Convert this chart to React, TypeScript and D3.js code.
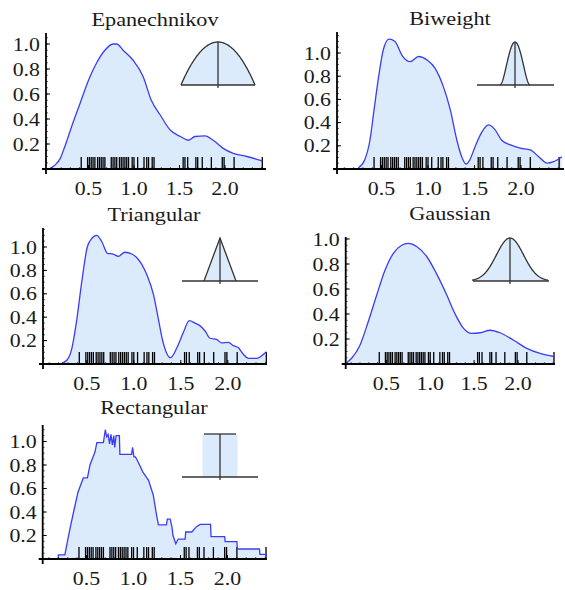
import React from 'react'
import * as d3 from 'd3'

// sample points shown as rug ticks under every curve
const rugPoints = [
  0.42, 0.49, 0.51, 0.53, 0.55, 0.57, 0.6, 0.62, 0.64, 0.66, 0.68, 0.75, 0.77, 0.79,
  0.81, 0.84, 0.86, 0.88, 0.9, 0.92, 0.94, 0.98, 1.0, 1.04, 1.11, 1.14, 1.16, 1.2,
  1.22, 1.54, 1.56, 1.59, 1.68, 1.7, 1.75, 1.85, 1.97, 1.99, 2.1, 2.41,
]

const xTicks = [0.5, 1.0, 1.5, 2.0]
const yTicks = [0.2, 0.4, 0.6, 0.8, 1.0]

// density estimates: [x, density]
const epanechnikov: [number, number][] = [
  [0.077, 0.005], [0.13, 0.03], [0.19, 0.085], [0.24, 0.18], [0.315, 0.34], [0.41, 0.53],
  [0.5, 0.71], [0.59, 0.85], [0.68, 0.95], [0.77, 1.0], [0.81, 1.0], [0.88, 0.95],
  [0.99, 0.87], [1.1, 0.74], [1.19, 0.55], [1.29, 0.43], [1.4, 0.31], [1.51, 0.26],
  [1.6, 0.23], [1.67, 0.26], [1.78, 0.265], [1.87, 0.23], [1.98, 0.165], [2.09, 0.125],
  [2.24, 0.1], [2.41, 0.065],
]

const biweight: [number, number][] = [
  [0.25, 0.01], [0.32, 0.08], [0.376, 0.25], [0.42, 0.51], [0.47, 0.8], [0.52, 1.03],
  [0.58, 1.12], [0.645, 1.1], [0.72, 0.98], [0.81, 0.925], [0.9, 0.97], [0.99, 0.94],
  [1.075, 0.87], [1.165, 0.71], [1.24, 0.51], [1.31, 0.25], [1.36, 0.11], [1.41, 0.043],
  [1.45, 0.08], [1.505, 0.19], [1.58, 0.32], [1.65, 0.38], [1.72, 0.34], [1.79, 0.25],
  [1.88, 0.21], [1.99, 0.18], [2.1, 0.164], [2.19, 0.106], [2.28, 0.05], [2.35, 0.063],
  [2.44, 0.106],
]

const triangular: [number, number][] = [
  [0.23, 0.005], [0.29, 0.034], [0.34, 0.13], [0.39, 0.36], [0.446, 0.7], [0.505, 1.0],
  [0.55, 1.07], [0.605, 1.1], [0.66, 1.045], [0.72, 0.946], [0.78, 0.94], [0.835, 0.92],
  [0.905, 0.955], [0.98, 0.94], [1.03, 0.91], [1.14, 0.76], [1.21, 0.59], [1.26, 0.39],
  [1.31, 0.19], [1.39, 0.054], [1.456, 0.134], [1.53, 0.276], [1.59, 0.37], [1.65, 0.35],
  [1.7, 0.33], [1.76, 0.28], [1.81, 0.22], [1.88, 0.21], [1.935, 0.18], [2.005, 0.185],
  [2.06, 0.157], [2.11, 0.14], [2.165, 0.083], [2.22, 0.048], [2.31, 0.048], [2.36, 0.07],
  [2.41, 0.105],
]

const gaussian: [number, number][] = [
  [0.04, 0.006], [0.105, 0.046], [0.2, 0.15], [0.295, 0.34], [0.39, 0.55], [0.485, 0.75],
  [0.58, 0.885], [0.675, 0.95], [0.75, 0.965], [0.845, 0.94], [0.96, 0.86], [1.07, 0.725],
  [1.19, 0.55], [1.28, 0.405], [1.38, 0.285], [1.47, 0.245], [1.57, 0.25], [1.68, 0.27],
  [1.795, 0.25], [1.95, 0.19], [2.1, 0.125], [2.25, 0.085], [2.41, 0.06],
]

const rectangular: [number, number][] = [
  [0.18, 0], [0.2, 0], [0.2, 0.035], [0.27, 0.035], [0.29, 0.12], [0.325, 0.26],
  [0.367, 0.417], [0.41, 0.57], [0.466, 0.69], [0.51, 0.69], [0.537, 0.8], [0.59, 0.91],
  [0.61, 0.99], [0.68, 0.99], [0.7, 1.1], [0.715, 1.04], [0.73, 1.06], [0.745, 0.98],
  [0.76, 1.06], [0.775, 0.97], [0.79, 1.05], [0.8, 0.95], [0.815, 1.05], [0.85, 1.05],
  [0.855, 0.89], [0.98, 0.89], [0.99, 0.95], [1.005, 0.87], [1.02, 0.87], [1.04, 0.84],
  [1.1, 0.74], [1.16, 0.67], [1.21, 0.545], [1.245, 0.375], [1.265, 0.29], [1.35, 0.29],
  [1.36, 0.34], [1.39, 0.34], [1.41, 0.27], [1.42, 0.2], [1.45, 0.13], [1.475, 0.17],
  [1.55, 0.17], [1.555, 0.23], [1.62, 0.23], [1.67, 0.275], [1.71, 0.295], [1.82, 0.295],
  [1.825, 0.19], [1.97, 0.19], [1.975, 0.148], [2.1, 0.148], [2.105, 0.085], [2.34, 0.085],
  [2.345, 0.04], [2.42, 0.04],
]

const FILL = '#dcebfc'
const LINE = '#3c3cf5'
const FONT = 'Liberation Serif, DejaVu Serif, serif'

type Kernel = 'epan' | 'biweight' | 'triangular' | 'gaussian' | 'rect'

type Panel = {
  title: string
  data: [number, number][]
  kernel: Kernel
  stepped?: boolean
  x0: number // pixel of x = 0
  kx: number // pixels per unit x
  axisX: number
  axisY: number
  ky: number
  yTop: number
  xEnd: number
  titleX: number
  titleY: number
  icon: { cx: number; base: number; left: number; right: number; half: number; h: number }
}

const panels: Panel[] = [
  {
    title: 'Epanechnikov', data: epanechnikov, kernel: 'epan',
    x0: 43, kx: 91, axisX: 46, axisY: 169, ky: 125, yTop: 33, xEnd: 266,
    titleX: 155, titleY: 26,
    icon: { cx: 218, base: 85, left: 181, right: 255, half: 37, h: 43 },
  },
  {
    title: 'Biweight', data: biweight, kernel: 'biweight',
    x0: 335, kx: 93, axisX: 337, axisY: 169, ky: 116, yTop: 32, xEnd: 564,
    titleX: 450, titleY: 25,
    icon: { cx: 515, base: 85, left: 477, right: 554, half: 15, h: 43 },
  },
  {
    title: 'Triangular', data: triangular, kernel: 'triangular',
    x0: 39.8, kx: 94, axisX: 43, axisY: 364, ky: 117, yTop: 228, xEnd: 267,
    titleX: 154, titleY: 221,
    icon: { cx: 220, base: 281, left: 182, right: 258, half: 16, h: 43 },
  },
  {
    title: 'Gaussian', data: gaussian, kernel: 'gaussian',
    x0: 342.4, kx: 87.8, axisX: 345.7, axisY: 364, ky: 125, yTop: 237, xEnd: 555,
    titleX: 450, titleY: 220,
    icon: { cx: 510, base: 281, left: 473, right: 549, half: 38, h: 43 },
  },
  {
    title: 'Rectangular', data: rectangular, kernel: 'rect', stepped: true,
    x0: 39.5, kx: 94, axisX: 42.7, axisY: 559, ky: 117.5, yTop: 425, xEnd: 267,
    titleX: 154, titleY: 414,
    icon: { cx: 220, base: 477, left: 182, right: 258, half: 17.5, h: 43 },
  },
]

const kernelFn = (k: Kernel, u: number) => {
  switch (k) {
    case 'epan': return Math.max(0, 1 - u * u)
    case 'biweight': return Math.max(0, (1 - u * u) ** 2)
    case 'triangular': return Math.max(0, 1 - Math.abs(u))
    case 'gaussian': return Math.exp(-0.5 * (u * 2.8) ** 2)
    default: return Math.abs(u) <= 1 ? 1 : 0
  }
}

const Label = ({ x, y, size, anchor, sx, children }: any) => (
  <g transform={`translate(${x},${y}) scale(${sx},1)`}>
    <text fontFamily={FONT} fontSize={size} textAnchor={anchor} fill="#1a1a1a">{children}</text>
  </g>
)

const KernelIcon = ({ p }: { p: Panel }) => {
  const { cx, base, left, right, half, h } = p.icon
  const us = d3.range(-1, 1.0001, 0.02)
  const pts: [number, number][] = us.map((u) => [cx + u * half, base - h * kernelFn(p.kernel, u)])
  const line = d3.line()
  if (p.kernel === 'rect') {
    return (
      <g>
        <rect x={cx - half} y={base - h} width={half * 2} height={h} fill={FILL} />
        <line x1={left} x2={right} y1={base} y2={base} stroke="#333" strokeWidth={1.3} />
        <line x1={cx - 16} x2={cx + 16} y1={base - h} y2={base - h} stroke="#333" strokeWidth={1.3} />
        <line x1={cx} x2={cx} y1={base - h} y2={base + 3} stroke="#333" strokeWidth={1.3} />
      </g>
    )
  }
  return (
    <g>
      <path d={line([...pts, [cx + half, base], [cx - half, base]]) + 'Z'} fill={FILL} />
      <line x1={left} x2={right} y1={base} y2={base} stroke="#333" strokeWidth={1.3} />
      <path d={line(pts) ?? ''} fill="none" stroke="#333" strokeWidth={1.3} />
      <line x1={cx} x2={cx} y1={base - h} y2={base + 3} stroke="#333" strokeWidth={1.3} />
    </g>
  )
}

const DensityPanel = ({ p }: { p: Panel }) => {
  const x = d3.scaleLinear().domain([0, 1]).range([p.x0, p.x0 + p.kx])
  const y = d3.scaleLinear().domain([0, 1]).range([p.axisY, p.axisY - p.ky])
  const curve = p.stepped ? d3.curveLinear : d3.curveMonotoneX
  const area = d3.area<[number, number]>()
    .x((d) => x(d[0]))
    .y0(y(0))
    .y1((d) => y(d[1]))
    .curve(curve)
  const line = d3.line<[number, number]>()
    .x((d) => x(d[0]))
    .y((d) => y(d[1]))
    .curve(curve)
  const minorY = d3.range(0.05, (p.axisY - p.yTop) / p.ky, 0.05)
  const minorX = d3.range(0.1, x.invert(p.xEnd), 0.1)

  return (
    <g>
      <path d={area(p.data) ?? ''} fill={FILL} />
      {rugPoints.map((r, i) => (
        <line key={i} x1={x(r)} x2={x(r)} y1={p.axisY} y2={p.axisY - 12} stroke="#000" strokeWidth={1.3} />
      ))}
      <path d={line(p.data) ?? ''} fill="none" stroke={LINE} strokeWidth={1.3} />

      {/* axes */}
      <line x1={p.axisX} x2={p.axisX} y1={p.yTop} y2={p.axisY + 5} stroke="#000" strokeWidth={1.8} />
      <line x1={p.axisX - 4} x2={p.xEnd} y1={p.axisY} y2={p.axisY} stroke="#000" strokeWidth={1.8} />
      {minorY.map((t, i) => (
        <line key={`my${i}`} x1={p.axisX} x2={p.axisX + 2} y1={y(t)} y2={y(t)} stroke="#000" strokeWidth={0.6} />
      ))}
      {minorX.map((t, i) => (
        <line key={`mx${i}`} x1={x(t)} x2={x(t)} y1={p.axisY} y2={p.axisY - 2} stroke="#000" strokeWidth={0.6} />
      ))}
      {yTicks.map((t) => (
        <g key={`y${t}`}>
          <line x1={p.axisX} x2={p.axisX + 4} y1={y(t)} y2={y(t)} stroke="#000" strokeWidth={1} />
          <Label x={p.axisX - 6} y={y(t) + 6.5} size={19} anchor="end" sx={1.15}>{t.toFixed(1)}</Label>
        </g>
      ))}
      {xTicks.map((t) => (
        <g key={`x${t}`}>
          <line x1={x(t)} x2={x(t)} y1={p.axisY} y2={p.axisY - 4} stroke="#000" strokeWidth={1} />
          <Label x={x(t)} y={p.axisY + 26} size={19} anchor="middle" sx={1.15}>{t.toFixed(1)}</Label>
        </g>
      ))}

      <Label x={p.titleX} y={p.titleY} size={19.5} anchor="middle" sx={1.14}>{p.title}</Label>
      <KernelIcon p={p} />
    </g>
  )
}

export default function App() {
  return (
    <svg width={565} height={590} style={{ position: 'absolute', left: 0, top: 0, background: '#fff' }}>
      {panels.map((p) => <DensityPanel key={p.title} p={p} />)}
    </svg>
  )
}
